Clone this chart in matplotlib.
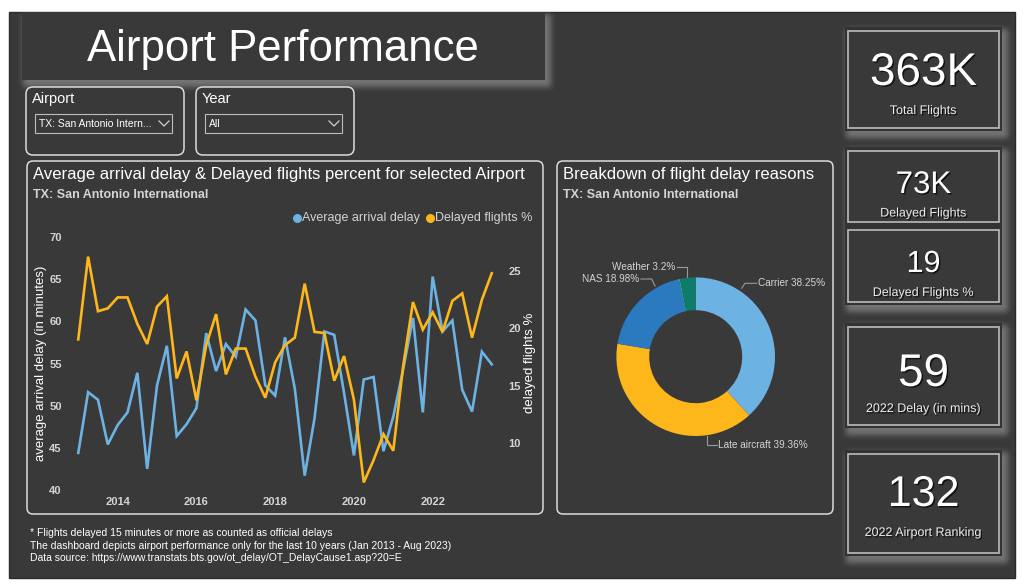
import numpy as np
import matplotlib
matplotlib.use("Agg")
import matplotlib.pyplot as plt
from matplotlib.patches import Rectangle, FancyBboxPatch
import matplotlib.patheffects as pe

plt.rcParams["font.family"] = ["Liberation Sans", "DejaVu Sans"]

# ---- data -------------------------------------------------------------
years = list(range(2013, 2024))
quarters = [1, 2, 3, 4]
n_points = 43  # Jan 2013 - Aug 2023, quarterly

avg_delay = [44.4, 51.6, 50.7, 45.4, 47.7, 49.2, 53.9, 42.5, 52.4, 57.1, 46.4,
             47.8, 49.7, 58.6, 54.1, 57.3, 55.8, 61.4, 60.1, 52.4, 51.2, 58.1,
             52.0, 41.7, 48.5, 58.8, 58.4, 51.5, 44.1, 53.1, 53.4, 44.6, 48.7,
             54.3, 60.4, 49.2, 65.3, 58.8, 60.1, 51.9, 49.3, 56.4, 54.9]
delayed_pct = [19.05, 26.25, 21.5, 21.75, 22.7, 22.7, 20.4, 18.65, 21.9, 22.8,
               15.65, 18.0, 13.75, 18.55, 21.25, 16.0, 18.25, 18.25, 15.8, 13.97,
               17.05, 18.55, 19.2, 23.9, 19.7, 19.6, 15.45, 17.6, 13.8, 6.6,
               8.55, 10.8, 9.36, 16.7, 22.3, 19.9, 21.4, 19.7, 22.4, 23.05,
               19.2, 22.5, 24.8]

left_ticks = [40, 45, 50, 55, 60, 65, 70]
right_ticks = [10, 15, 20, 25]
year_ticks = [2014, 2016, 2018, 2020, 2022]

reasons = ["Carrier", "Late aircraft", "NAS", "Security", "Weather"]
reason_pct = [38.25, 39.36, 18.98, 0.21, 3.2]
reason_colors = ["#6CB2E3", "#FDB71A", "#2B7AC0", "#1DBF8E", "#0F7B6A"]

kpi_values = ["363K", "73K", "19", "59", "132"]
kpi_labels = ["Total Flights", "Delayed Flights", "Delayed Flights %",
              "2022 Delay (in mins)", "2022 Airport Ranking"]

airport = "TX: San Antonio International"
footer = ["* Flights delayed 15 minutes or more as counted as official delays",
          "The dashboard depicts airport performance only for the last 10 years (Jan 2013 - Aug 2023)",
          "Data source: https://www.transtats.bts.gov/ot_delay/OT_DelayCause1.asp?20=E"]

BG = "#393939"
BORDER = "#dcdcdc"
BLUE = "#6CB2E3"
ORANGE = "#FDB71A"
TXT = "#d4d4d4"

W, H = 1024, 588
fig = plt.figure(figsize=(W / 100, H / 100), dpi=100)
fig.patch.set_facecolor("white")


def px_axes(x0, y0, x1, y1):
    return fig.add_axes([x0 / W, 1 - y1 / H, (x1 - x0) / W, (y1 - y0) / H])


bg = px_axes(0, 0, W, H)
bg.set_xlim(0, W)
bg.set_ylim(H, 0)
bg.axis("off")

bg.add_patch(Rectangle((9, 12), 1006, 566, fc=BG, ec="#2a2a2a", lw=1, zorder=0.5))

# soft drop shadows (title box + KPI groups)
title_box = (22, 12, 545, 80)
groups = [(845, 27, 1002, 131), (845, 147, 1002, 305), (845, 323, 1002, 428),
          (845, 450, 1002, 556)]


def blur(a, r):
    k = 2 * r + 1
    for axis in (0, 1):
        pad = [(0, 0), (0, 0)]
        pad[axis] = (r + 1, r)
        c = np.cumsum(np.pad(a, pad, mode="constant"), axis=axis)
        if axis == 0:
            a = (c[k:, :] - c[:-k, :]) / k
        else:
            a = (c[:, k:] - c[:, :-k]) / k
    return a


mask = np.zeros((H, W))
for (x0, y0, x1, y1) in [title_box] + groups:
    mask[int(y0 + 2):int(y1 + 7), int(x0 + 1):int(x1 + 6)] = 1
glow = blur(blur(mask, 3), 3)
overlay = np.zeros((H, W, 4))
overlay[..., :3] = 0.78
overlay[..., 3] = np.clip(glow, 0, 1) * 0.42
bg.imshow(overlay, extent=(0, W, H, 0), zorder=0.8, interpolation="bilinear")
bg.set_xlim(0, W)
bg.set_ylim(H, 0)
bg.set_aspect("auto")


def rbox(x0, y0, x1, y1, r=6, ec=BORDER, lw=1.1):
    bg.add_patch(FancyBboxPatch((x0, y0), x1 - x0, y1 - y0,
                                boxstyle=f"round,pad=0,rounding_size={r}",
                                fc=BG, ec=ec, lw=lw, zorder=1))


# title box
bg.add_patch(Rectangle(title_box[:2], title_box[2] - title_box[0],
                       title_box[3] - title_box[1], fc=BG, ec="none", zorder=1))
bg.text(283, 61, "Airport Performance", ha="center", va="baseline",
        fontsize=31.5, color="white")

# slicers
for (x0, head, val) in [(26, "Airport", "TX: San Antonio Intern..."), (196, "Year", "All")]:
    rbox(x0, 87, x0 + 158, 155, r=7)
    bg.text(x0 + 6, 103, head, fontsize=10.5, color="white", va="baseline")
    bg.add_patch(Rectangle((x0 + 9, 114), 137, 19, fc="none", ec="#bdbdbd", lw=0.8,
                           zorder=2))
    bg.text(x0 + 13, 127, val, fontsize=7.5, color="white", va="baseline")
    cx = x0 + 138
    bg.plot([cx - 5, cx, cx + 5], [121, 126, 121], color="#d0d0d0", lw=0.9)

# chart cards
rbox(27, 161, 543, 514)
rbox(557, 161, 833, 514)
bg.text(33, 179, "Average arrival delay & Delayed flights percent for selected Airport",
        fontsize=12, color="white", va="baseline")
bg.text(33, 197.5, airport, fontsize=9, color=TXT, fontweight="bold", va="baseline")
bg.text(563, 179, "Breakdown of flight delay reasons", fontsize=12, color="white",
        va="baseline")
bg.text(563, 197.5, airport, fontsize=9, color=TXT, fontweight="bold", va="baseline")

# legend
bg.scatter([297], [217.5], s=30, color=BLUE, zorder=5)
bg.text(302, 221, "Average arrival delay", fontsize=9, color=TXT, va="baseline")
bg.scatter([430], [217.5], s=30, color=ORANGE, zorder=5)
bg.text(435, 221, "Delayed flights %", fontsize=9, color=TXT, va="baseline")

# ---- line chart -------------------------------------------------------
periods = [y + (q - 1) / 4 for y in years for q in quarters][:n_points]

ax = px_axes(70, 237, 500, 490)
ax.patch.set_alpha(0)
ax.plot(periods, avg_delay, color=BLUE, lw=1.9, solid_joinstyle="miter")
ax.set_xlim(2012.79, 2023.71)
ax.set_ylim(40, 70)
ax.set_yticks(left_ticks, [str(t) for t in left_ticks], fontweight="bold")
ax.set_xticks(year_ticks, [str(t) for t in year_ticks], fontweight="bold")
ax.tick_params(length=0, labelsize=8, labelcolor=TXT)
ax.tick_params(axis="y", pad=6)
ax.tick_params(axis="x", pad=5)

ax2 = ax.twinx()
ax2.plot(periods, delayed_pct, color=ORANGE, lw=1.9, solid_joinstyle="miter")
ax2.set_ylim(5.94, 27.96)
ax2.set_yticks(right_ticks, [str(t) for t in right_ticks], fontweight="bold")
ax2.tick_params(length=0, labelsize=8, labelcolor=TXT, pad=6)
for a in (ax, ax2):
    for s in a.spines.values():
        s.set_visible(False)

bg.text(41, 363, "average arrival delay (in minutes)", rotation=90, ha="center",
        va="center", fontsize=9.5, color="white")
bg.text(530, 363, "delayed flights %", rotation=90, ha="center", va="center",
        fontsize=9.5, color="white")

# ---- donut ------------------------------------------------------------
dax = px_axes(595.7, 256.7, 795.7, 456.7)
dax.pie(reason_pct, colors=reason_colors, startangle=90, counterclock=False,
        radius=0.793, wedgeprops=dict(width=0.328, edgecolor="none"))
dax.set_xlim(-1, 1)
dax.set_ylim(-1, 1)
dax.set_aspect("equal")
dax.axis("off")

# leader lines + labels (pixel layout)
leaders = {
    "Carrier": ([741.7, 745, 756.7], [288.3, 283.3, 283.3], "left"),
    "Late aircraft": ([706.7, 706.7, 716.7], [436, 445, 445], "left"),
    "NAS": ([655, 651.7, 641], [286, 279, 279], "right"),
    "Weather": ([686.7, 686.7, 676.7], [276.7, 267.3, 267.3], "right"),
}
for name, pct in zip(reasons, reason_pct):
    if name not in leaders:
        continue
    xs, ys, side = leaders[name]
    bg.plot(xs, ys, color="#9a9a9a", lw=0.8)
    tx = xs[-1] + (1.5 if side == "left" else -1.5)
    bg.text(tx, ys[-1], f"{name} {pct:g}%", ha=side, va="center",
            fontsize=7.2, color=TXT)

# ---- KPI cards --------------------------------------------------------
for g in groups:
    bg.add_patch(Rectangle((g[0], g[1]), g[2] - g[0], g[3] - g[1], fc="#333333",
                           ec="none", zorder=1))

cards = [(31, 128), (151, 222), (230, 302), (327, 425), (454, 553)]
value_base = [85, 193, 272, 386, 506]
value_size = [33, 22.5, 22, 33, 31]
label_base = [114, 216.5, 296, 412, 536]
shade = [pe.withSimplePatchShadow(offset=(1, -1), shadow_rgbFace="black", alpha=0.7)]
for (y0, y1), val, lab, vb, vs, lb in zip(cards, kpi_values, kpi_labels,
                                          value_base, value_size, label_base):
    bg.add_patch(Rectangle((848, y0), 151, y1 - y0, fc=BG, ec="#bdbdbd", lw=1.2,
                           zorder=2))
    bg.text(923.5, vb, val, ha="center", va="baseline", fontsize=vs,
            color="white", path_effects=shade)
    bg.text(923.5, lb, lab, ha="center", va="baseline", fontsize=9,
            color="#ececec", path_effects=shade)

# footer
for i, line in enumerate(footer):
    bg.text(30, 536.5 + i * 12.2, line, fontsize=7.5, color="white", va="baseline")

fig.savefig("out.png", dpi=100, facecolor=fig.get_facecolor())
